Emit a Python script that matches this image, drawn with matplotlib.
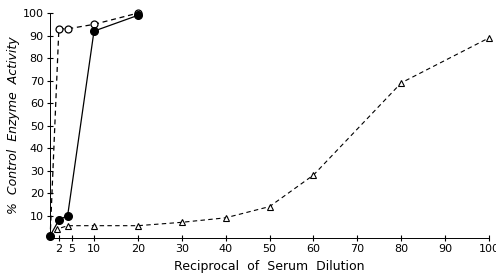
import matplotlib
matplotlib.use('Agg')
import matplotlib.pyplot as plt

# Open circles (dashed)
open_x = [0, 2, 4, 10, 20]
open_y = [0, 93, 93, 95, 100]

# Filled circles (solid)
filled_x = [0, 2, 4, 10, 20]
filled_y = [1, 8, 10, 92, 99]

# Triangles (dashed)
tri_x = [0, 1.6, 4, 10, 20, 30, 40, 50, 60, 80, 100]
tri_y = [0, 4, 5.5, 5.5, 5.5, 7, 9, 14, 28, 69, 89]

xticks = [2, 5, 10, 20, 30, 40, 50, 60, 70, 80, 90, 100]
yticks = [10, 20, 30, 40, 50, 60, 70, 80, 90, 100]

fig = plt.figure(figsize=(4.96, 2.73), dpi=100)
ax = fig.add_axes([0.101, 0.128, 0.885, 0.824])

ax.plot(open_x, open_y, color='black', linestyle=(0, (4, 3)), linewidth=0.9,
        marker='o', markersize=5, markerfacecolor='white', markeredgecolor='black',
        markeredgewidth=0.9, markevery=[1, 2, 3, 4], clip_on=False)
ax.plot(filled_x, filled_y, color='black', linestyle='-', linewidth=0.9,
        marker='o', markersize=5.5, markerfacecolor='black', markeredgecolor='black',
        clip_on=False)
ax.plot(tri_x, tri_y, color='black', linestyle=(0, (4, 3)), linewidth=0.8,
        marker='^', markersize=5, markerfacecolor='white', markeredgecolor='black',
        markeredgewidth=0.8, markevery=list(range(1, len(tri_x))), clip_on=False)

ax.set_xlim(0, 100)
ax.set_ylim(0, 100)
ax.set_xticks(xticks)
ax.set_yticks(yticks)
ax.set_xticklabels([str(t) for t in xticks], fontsize=8)
ax.set_yticklabels([str(t) for t in yticks], fontsize=8)
ax.tick_params(axis='both', direction='inout', length=5, width=0.8, pad=2)

for s in ['top', 'right']:
    ax.spines[s].set_visible(False)
ax.spines['left'].set_linewidth(0.7)
ax.spines['bottom'].set_linewidth(0.7)

ax.set_xlabel('Reciprocal  of  Serum  Dilution', fontsize=9, labelpad=4)
ax.set_ylabel('%  Control  Enzyme  Activity', fontsize=9, style='italic', labelpad=2)

plt.savefig('out.png', dpi=100)
